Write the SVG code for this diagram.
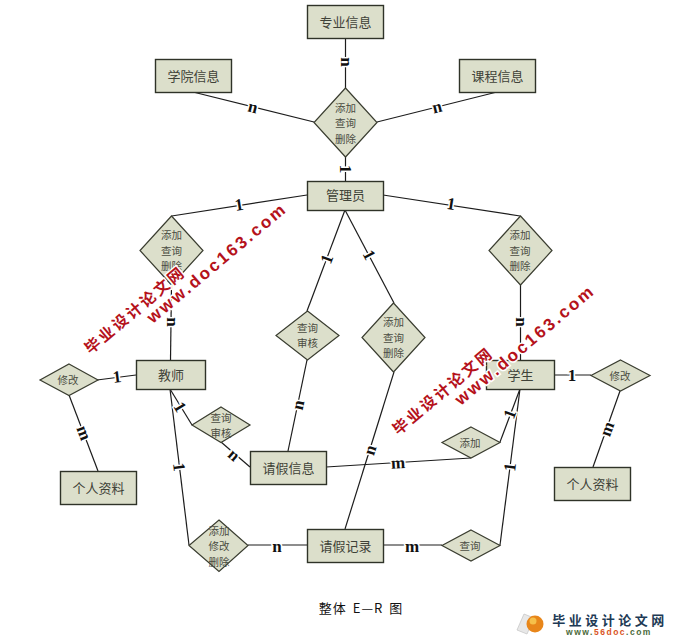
<svg xmlns="http://www.w3.org/2000/svg" width="679" height="641" viewBox="0 0 679 641">
<style>
.bg{fill:#fff}
.e{fill:#dcdfcb;stroke:#2f3328;stroke-width:1.4}
.d{fill:#dcdfcb;stroke:#3a3d30;stroke-width:1.2}
.et{font-family:"Noto Sans CJK SC","Liberation Serif",serif;font-size:13px;fill:#3f4238;text-anchor:middle;dominant-baseline:central}
.dt{font-family:"Noto Sans CJK SC","Liberation Serif",serif;font-size:10.500px;fill:#4a4c42;text-anchor:middle;dominant-baseline:central}
.c line{stroke:#1c1c1c;stroke-width:1.2}
.l{font-family:"Liberation Serif",serif;font-weight:bold;font-size:17px;fill:#111;text-anchor:middle;dominant-baseline:central;stroke:#fff;stroke-width:3px;paint-order:stroke}
.wm{font-family:"Liberation Sans","Noto Sans CJK SC",sans-serif;font-weight:bold;fill:#b5121b;stroke:#fff;stroke-width:3px;paint-order:stroke;text-anchor:middle;dominant-baseline:central}
</style>
<rect class="bg" width="679" height="641"/>
<g id="connectors" class="c">
<line x1="345.5" y1="38" x2="345.5" y2="88"/>
<line x1="193" y1="92" x2="314" y2="122"/>
<line x1="497" y1="92" x2="377" y2="122"/>
<line x1="345.5" y1="157" x2="345.5" y2="181"/>
<line x1="307" y1="195" x2="171.7" y2="216"/>
<line x1="383" y1="195" x2="520" y2="216"/>
<line x1="345" y1="210" x2="307" y2="311"/>
<line x1="345" y1="210" x2="394" y2="303"/>
<line x1="171.5" y1="285" x2="170.5" y2="360"/>
<line x1="307" y1="360" x2="288" y2="451"/>
<line x1="394" y1="372" x2="345" y2="529"/>
<line x1="520.5" y1="285" x2="520.5" y2="360"/>
<line x1="136" y1="375" x2="97" y2="380"/>
<line x1="555" y1="375" x2="591" y2="375"/>
<line x1="69" y1="395" x2="98" y2="471"/>
<line x1="620" y1="391" x2="593" y2="467"/>
<line x1="170" y1="389" x2="192" y2="425"/>
<line x1="221" y1="442" x2="250" y2="467"/>
<line x1="170" y1="389" x2="189" y2="545"/>
<line x1="248" y1="545" x2="307" y2="545"/>
<line x1="326" y1="467" x2="471" y2="458"/>
<line x1="383" y1="545" x2="442" y2="545"/>
<line x1="520" y1="389" x2="500" y2="442"/>
<line x1="520" y1="389" x2="500" y2="545"/>
<g>
<text class="l" transform="translate(346,62) rotate(90)">n</text>
<text class="l" transform="translate(253,107) rotate(14)">n</text>
<text class="l" transform="translate(437,107) rotate(-14)">n</text>
<text class="l" transform="translate(345,169) rotate(90)">1</text>
<text class="l" transform="translate(239,205) rotate(-9)">1</text>
<text class="l" transform="translate(451,204) rotate(9)">1</text>
<text class="l" transform="translate(327,259) rotate(-69)">1</text>
<text class="l" transform="translate(369,255) rotate(62)">1</text>
<text class="l" transform="translate(172,322) rotate(90)">n</text>
<text class="l" transform="translate(298,405) rotate(-78)">n</text>
<text class="l" transform="translate(370,450) rotate(-72)">n</text>
<text class="l" transform="translate(521,322) rotate(90)">n</text>
<text class="l" transform="translate(117,377) rotate(-7)">1</text>
<text class="l" transform="translate(572,375)">1</text>
<text class="l" transform="translate(84,433) rotate(69)">m</text>
<text class="l" transform="translate(607,429) rotate(-70)">m</text>
<text class="l" transform="translate(180,407) rotate(59)">1</text>
<text class="l" transform="translate(234,455) rotate(41)">n</text>
<text class="l" transform="translate(179,467) rotate(83)">1</text>
<text class="l" transform="translate(277,546)">n</text>
<text class="l" transform="translate(398,463) rotate(-3)">m</text>
<text class="l" transform="translate(412,546)">m</text>
<text class="l" transform="translate(510,414) rotate(-69)">1</text>
<text class="l" transform="translate(510,467) rotate(-83)">1</text>
</g>
</g>
<g id="n-major"><rect class="e" x="307.500" y="5.500" width="76" height="33"/><text class="et" x="345.500" y="21">专业信息</text></g>
<g id="n-college"><rect class="e" x="155.500" y="59.500" width="76" height="33"/><text class="et" x="193.500" y="75">学院信息</text></g>
<g id="n-course"><rect class="e" x="459.500" y="59.500" width="76" height="33"/><text class="et" x="497.500" y="75">课程信息</text></g>
<g id="n-admin"><rect class="e" x="307.500" y="181.500" width="76" height="29"/><text class="et" x="345.500" y="194.500">管理员</text></g>
<g id="n-teacher"><rect class="e" x="136.500" y="360.500" width="69" height="29"/><text class="et" x="171" y="374">教师</text></g>
<g id="n-student"><rect class="e" x="486.500" y="360.500" width="68" height="29"/><text class="et" x="520.500" y="374">学生</text></g>
<g id="n-profile-l"><rect class="e" x="60.500" y="471.500" width="76" height="33"/><text class="et" x="98.500" y="487">个人资料</text></g>
<g id="n-profile-r"><rect class="e" x="554.500" y="467.500" width="76" height="33"/><text class="et" x="592.500" y="483">个人资料</text></g>
<g id="n-leave-info"><rect class="e" x="250.500" y="451.500" width="76" height="33"/><text class="et" x="288.500" y="467">请假信息</text></g>
<g id="n-leave-rec"><rect class="e" x="307.500" y="529.500" width="76" height="33"/><text class="et" x="345.500" y="545">请假记录</text></g>
<g id="d-top"><polygon class="d" points="345.500,88 377,122.500 345.500,157 314,122.500"/><text class="dt" x="345.500" y="107">添加</text><text class="dt" x="345.500" y="122">查询</text><text class="dt" x="345.500" y="138">删除</text></g>
<g id="d-left"><polygon class="d" points="171.500,216 203,250.500 171.500,285 140,250.500"/><text class="dt" x="171.500" y="234">添加</text><text class="dt" x="171.500" y="250">查询</text><text class="dt" x="171.500" y="265">删除</text></g>
<g id="d-right"><polygon class="d" points="520.500,216 552,250.500 520.500,285 489,250.500"/><text class="dt" x="520" y="234">添加</text><text class="dt" x="520" y="250">查询</text><text class="dt" x="520" y="265">删除</text></g>
<g id="d-mid1"><polygon class="d" points="307.500,311 339,335.500 307.500,360 276,335.500"/><text class="dt" x="307.500" y="327">查询</text><text class="dt" x="307.500" y="342">审核</text></g>
<g id="d-mid2"><polygon class="d" points="393.500,303 425,337.500 393.500,372 362,337.500"/><text class="dt" x="393.500" y="321">添加</text><text class="dt" x="393.500" y="337">查询</text><text class="dt" x="393.500" y="352">删除</text></g>
<g id="d-edit-l"><polygon class="d" points="69,364 98,380 69,395.500 40,380"/><text class="dt" x="68" y="379">修改</text></g>
<g id="d-edit-r"><polygon class="d" points="620.500,360 650,375.500 620.500,391 591,375.500"/><text class="dt" x="620" y="375">修改</text></g>
<g id="d-review"><polygon class="d" points="221,407 250,425 221,442.500 192,425"/><text class="dt" x="221" y="417">查询</text><text class="dt" x="221" y="432">审核</text></g>
<g id="d-edit-rec"><polygon class="d" points="219,520 248,545.500 219,571.500 189,545.500"/><text class="dt" x="219" y="530">添加</text><text class="dt" x="219" y="545">修改</text><text class="dt" x="219" y="561">删除</text></g>
<g id="d-add"><polygon class="d" points="471,427 500,442.500 471,458 442,442.500"/><text class="dt" x="470" y="442">添加</text></g>
<g id="d-query"><polygon class="d" points="471,530 500,545.500 471,561 442,545.500"/><text class="dt" x="470" y="545">查询</text></g>
<g id="watermarks">
<text class="wm" font-size="15.500" letter-spacing="2.500" transform="translate(135,310) rotate(-40)">毕业设计论文网</text>
<text class="wm" font-size="17" letter-spacing="2.500" transform="translate(217,263) rotate(-40)">www.doc163.com</text>
<text class="wm" font-size="15.500" letter-spacing="2.500" transform="translate(443,391) rotate(-40)">毕业设计论文网</text>
<text class="wm" font-size="17" letter-spacing="2.500" transform="translate(525,345) rotate(-40)">www.doc163.com</text>
</g>
<text x="361" y="607" font-family="'Noto Sans CJK SC','Liberation Sans',sans-serif" font-size="13" word-spacing="2" letter-spacing="1" fill="#111" text-anchor="middle" dominant-baseline="central">整体 E—R 图</text>
<g id="logo">
<polygon points="517,630 524,614 534,618 527,634" fill="#e8e8e8" stroke="#c8c8c8" stroke-width="0.8"/>
<circle cx="535" cy="624" r="8.500" fill="#e8861a"/>
<circle cx="533" cy="621" r="3.500" fill="#f6c04a"/>
<text x="610" y="619" font-family="'Noto Sans CJK SC',sans-serif" font-weight="bold" font-size="13" letter-spacing="3.500" fill="#1d3a55" text-anchor="middle" dominant-baseline="central">毕业设计论文网</text>
<text x="609" y="632" font-family="'Liberation Sans',sans-serif" font-weight="bold" font-size="8.500" letter-spacing="1.500" fill="#4a6a3a" text-anchor="middle" dominant-baseline="central">www.<tspan fill="#d9531e">56doc</tspan>.com</text>
</g>
</svg>
